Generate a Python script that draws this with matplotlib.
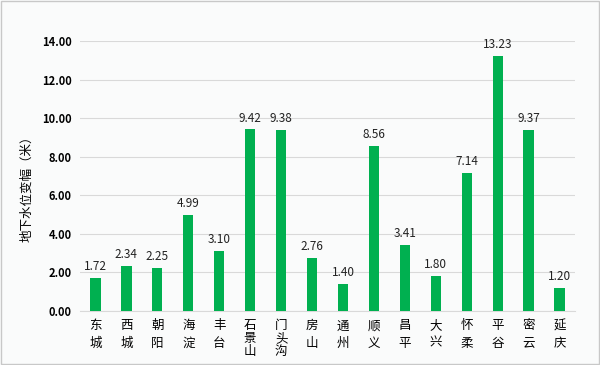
import matplotlib.pyplot as plt

plt.rcParams['font.family'] = ['Noto Sans CJK SC', 'DejaVu Sans']

districts = ["东城", "西城", "朝阳", "海淀", "丰台", "石景山", "门头沟", "房山",
             "通州", "顺义", "昌平", "大兴", "怀柔", "平谷", "密云", "延庆"]
changes = [1.72, 2.34, 2.25, 4.99, 3.10, 9.42, 9.38, 2.76,
           1.40, 8.56, 3.41, 1.80, 7.14, 13.23, 9.37, 1.20]
y_ticks = [0, 2, 4, 6, 8, 10, 12, 14]

fig = plt.figure(figsize=(6, 3.65), dpi=100, facecolor="#fafbfb")
ax = fig.add_axes([80 / 600, 1 - 311 / 365, 495 / 600, 270 / 365])
ax.set_facecolor("#fafbfb")

x = list(range(len(districts)))
bars = ax.bar(x, changes, width=0.33, color="#00b050", zorder=3)
for xi, v in zip(x, changes):
    ax.text(xi, v + 0.25, f"{v:.2f}", ha="center", va="bottom", fontsize=8.5, color="#222222")

ax.set_xlim(-0.5, len(districts) - 0.5)
ax.set_ylim(0, 14)
ax.set_yticks(y_ticks)
ax.set_yticklabels([f"{t:.2f}" for t in y_ticks], fontsize=8, fontweight="bold")
ax.set_xticks(x)
ax.set_xticklabels(["\n".join(d) for d in districts], fontsize=9, va="top")
for lbl, d in zip(ax.get_xticklabels(), districts):
    lbl.set_linespacing(1.45 if len(d) == 2 else 1.0)
ax.tick_params(axis="both", length=0, pad=6)
ax.tick_params(axis="x", pad=6)
ax.grid(axis="y", color="#d9d9d9", linewidth=0.8, zorder=0)
for s in ["top", "right", "left"]:
    ax.spines[s].set_visible(False)
ax.spines["bottom"].set_color("#d9d9d9")

fig.text(27 / 600, 1 - 186 / 365, "地下水位变幅（米）", rotation=90, ha="center", va="center", fontsize=9)

border = plt.Rectangle((0.002, 0.003), 0.996, 0.994, transform=fig.transFigure,
                       fill=False, edgecolor="#c8c8c8", linewidth=1)
fig.patches.append(border)

fig.savefig("out.png", dpi=100, facecolor=fig.get_facecolor())
